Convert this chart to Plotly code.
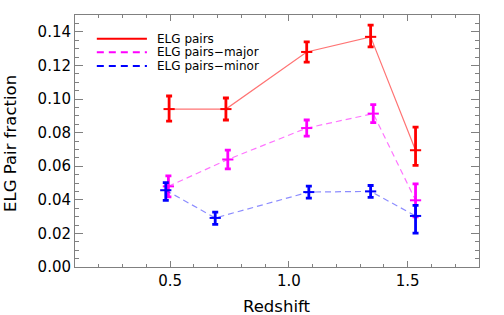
import plotly.graph_objects as go

# Data
z_pairs = [0.496, 0.735, 1.075, 1.344, 1.533]
f_pairs = [0.094, 0.094, 0.128, 0.137, 0.0695]
e_pairs_plus = [0.0078, 0.0066, 0.006, 0.007, 0.0138]
e_pairs_minus = [0.0072, 0.0065, 0.006, 0.006, 0.009]

z_major = [0.493, 0.743, 1.075, 1.355, 1.533]
f_major = [0.048, 0.064, 0.0827, 0.0913, 0.0397]
e_major = [0.0062, 0.0056, 0.0048, 0.0054, 0.0098]

z_minor = [0.482, 0.690, 1.084, 1.344, 1.533]
f_minor = [0.0457, 0.0292, 0.0446, 0.045, 0.0304]
e_minor_plus = [0.0045, 0.0035, 0.0035, 0.0035, 0.0063]
e_minor_minus = [0.006, 0.0038, 0.0036, 0.0035, 0.0102]

legend_labels = ["ELG pairs", "ELG pairs\u2212major", "ELG pairs\u2212minor"]
x_title = "Redshift"
y_title = "ELG Pair fraction"
colors = ["#ff0000", "#ff00ff", "#0000ff"]
line_colors = ["rgba(255,0,0,0.55)", "rgba(255,0,255,0.55)", "rgba(0,0,255,0.45)"]
dashes = ["solid", "6px,4px", "6px,4px"]

FONT = "DejaVu Sans"

fig = go.Figure()

series = [
    (z_pairs, f_pairs, e_pairs_plus, e_pairs_minus),
    (z_major, f_major, e_major, e_major),
    (z_minor, f_minor, e_minor_plus, e_minor_minus),
]
for i, (x, y, ep, em) in enumerate(series):
    fig.add_trace(go.Scatter(
        x=x, y=y, mode="lines+markers", name=legend_labels[i], showlegend=False,
        line=dict(color=line_colors[i], width=1.2, dash=dashes[i]),
        marker=dict(symbol="line-ew", size=8, color=colors[i],
                    line=dict(color=colors[i], width=2)),
        error_y=dict(type="data", symmetric=False, array=ep, arrayminus=em,
                     color=colors[i], thickness=2.8, width=3),
    ))

# Legend drawn inside the plot area
leg_y = [0.906, 0.852, 0.798]
for i in range(3):
    fig.add_shape(type="line", xref="paper", yref="paper",
                  x0=0.054, x1=0.178, y0=leg_y[i], y1=leg_y[i],
                  line=dict(color=colors[i], width=2,
                            dash=("solid" if i == 0 else "7px,5px")))
    fig.add_annotation(xref="paper", yref="paper", x=0.198, y=leg_y[i],
                       text=legend_labels[i], showarrow=False,
                       xanchor="left", yanchor="middle",
                       font=dict(family=FONT, size=12, color="black"))

# Axis titles
fig.add_annotation(xref="paper", yref="paper", x=0.5, y=-0.155,
                   text=x_title, showarrow=False, xanchor="center", yanchor="middle",
                   font=dict(family=FONT, size=16.5, color="black"))
fig.add_annotation(xref="paper", yref="paper", x=-0.16, y=0.49,
                   text=y_title, showarrow=False, textangle=-90,
                   xanchor="center", yanchor="middle",
                   font=dict(family=FONT, size=16.5, color="black"))

axis_common = dict(showline=True, linecolor="#808080", linewidth=1,
                   mirror="ticks", ticks="inside", tickcolor="#808080",
                   showgrid=False, zeroline=False,
                   tickfont=dict(family=FONT, size=15, color="black"))

fig.update_xaxes(range=[0.1, 1.8], tick0=0, dtick=0.5, tickformat=".1f",
                 ticklen=6, tickwidth=1,
                 minor=dict(dtick=0.1, tick0=0.1, ticklen=3, ticks="inside",
                            tickcolor="#808080", showgrid=False),
                 **axis_common)
fig.update_yaxes(range=[0, 0.15], tick0=0, dtick=0.02, tickformat=".2f",
                 ticklen=8, tickwidth=1,
                 minor=dict(dtick=0.005, tick0=0, ticklen=4, ticks="inside",
                            tickcolor="#808080", showgrid=False),
                 **axis_common)

fig.update_layout(width=504, height=315,
                  margin=dict(l=75, r=25, t=15, b=48),
                  paper_bgcolor="white", plot_bgcolor="white",
                  showlegend=False)

fig.write_html("out.html",
               config={"displayModeBar": False},
               post_script="document.body.style.margin='0';document.body.style.overflow='hidden';")
